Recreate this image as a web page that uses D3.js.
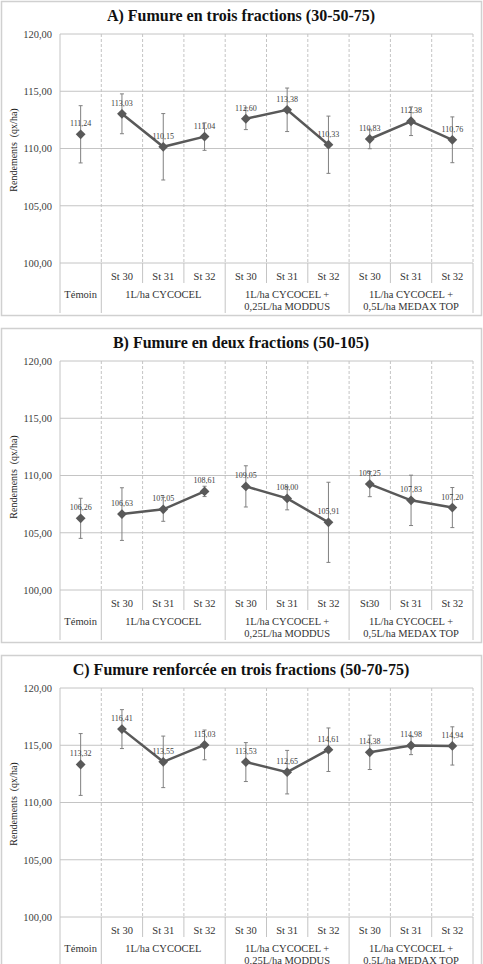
<!DOCTYPE html>
<html>
<head>
<meta charset="utf-8">
<script src="https://cdn.jsdelivr.net/npm/d3@7"></script>
<style>
  body { margin: 0; background: #fff; }
  svg, svg text { font-family: "Liberation Serif", "DejaVu Serif", serif; }
</style>
</head>
<body>
<div id="chart"></div>
<script>
// chart data
const titles = [
    "A) Fumure en trois fractions (30-50-75)",
    "B) Fumure en deux fractions (50-105)",
    "C) Fumure renforcée en trois fractions (50-70-75)"
];
const stLabelsA = ["", "St 30", "St 31", "St 32", "St 30", "St 31", "St 32", "St 30", "St 31", "St 32"];
const stLabelsB = ["", "St 30", "St 31", "St 32", "St 30", "St 31", "St 32", "St30", "St 31", "St 32"];
const stLabelsC = stLabelsA;
const groupLabels = [["Témoin"], ["1L/ha CYCOCEL"], ["1L/ha CYCOCEL +", "0,25L/ha MODDUS"], ["1L/ha CYCOCEL +", "0,5L/ha MEDAX TOP"]];
const groupSizes = [1, 3, 3, 3];

const meansA = [111.24, 113.03, 110.15, 111.04, 112.60, 113.38, 110.33, 110.83, 112.38, 110.76];
const errA   = [2.5, 1.74, 2.9, 1.2, 0.95, 1.9, 2.5, 0.85, 1.25, 2.0];
const meansB = [106.26, 106.63, 107.05, 108.61, 109.05, 108.00, 105.91, 109.25, 107.83, 107.20];
const errB   = [1.75, 2.3, 1.05, 0.45, 1.8, 1.0, 3.5, 1.1, 2.2, 1.75];
const meansC = [113.32, 116.41, 113.55, 115.03, 113.53, 112.65, 114.61, 114.38, 114.98, 114.94];
const errC   = [2.7, 1.7, 2.25, 1.3, 1.7, 1.9, 1.9, 1.5, 0.8, 1.67];

const yTicks = [100, 105, 110, 115, 120];

const W = 483, H = 964;
const panelH = 316;
const margin = {left: 60, right: 10, top: 34, bottom: 263};
const serif = "'Liberation Serif', 'DejaVu Serif', serif";

const fmt = v => d3.format(".2f")(v).replace(".", ",");

const svg = d3.select("#chart").append("svg")
    .attr("width", W)
    .attr("height", H)
    .attr("font-family", serif);

function drawPanel(offsetY, title, means, errs, stLabels) {
    const g = svg.append("g").attr("transform", "translate(0," + offsetY + ")");

    // panel frame
    g.append("rect")
        .attr("x", 1.5).attr("y", 1.5)
        .attr("width", W - 3).attr("height", panelH - 2)
        .attr("fill", "#fff")
        .attr("stroke", "#d0d0d0")
        .attr("stroke-width", 1.5);

    g.append("text")
        .attr("x", 241).attr("y", 21)
        .attr("text-anchor", "middle")
        .attr("font-size", 16).attr("font-weight", "bold")
        .attr("fill", "#111")
        .text(title);

    const idx = d3.range(means.length);
    const x = d3.scaleBand()
        .domain(idx)
        .range([margin.left, W - margin.right]);
    const y = d3.scaleLinear()
        .domain([100, 120])
        .range([margin.bottom, margin.top]);

    // horizontal grid
    g.selectAll(".hgrid").data(yTicks).join("line")
        .attr("x1", margin.left).attr("x2", W - margin.right)
        .attr("y1", d => y(d)).attr("y2", d => y(d))
        .attr("stroke", "#c4c4c4").attr("stroke-width", 1);

    // vertical dashed lines between categories
    const seps = d3.range(1, means.length + 1).map(i => x(i - 1) + x.bandwidth());
    g.selectAll(".vgrid").data(seps).join("line")
        .attr("x1", d => d).attr("x2", d => d)
        .attr("y1", margin.top).attr("y2", margin.bottom)
        .attr("stroke", "#c4c4c4").attr("stroke-dasharray", "3,2");

    // left axis line
    g.append("line")
        .attr("x1", margin.left).attr("x2", margin.left)
        .attr("y1", margin.top).attr("y2", 313)
        .attr("stroke", "#c4c4c4");

    // y axis labels
    const yAxis = d3.axisLeft(y).tickValues(yTicks).tickSize(0).tickPadding(8)
        .tickFormat(fmt);
    const ya = g.append("g")
        .attr("transform", "translate(" + margin.left + ",0)")
        .call(yAxis)
        .attr("font-family", serif);
    ya.select(".domain").remove();
    ya.selectAll("text")
        .attr("font-size", 10.5).attr("fill", "#404040");

    g.append("text")
        .attr("transform", "translate(17,150) rotate(-90)")
        .attr("text-anchor", "middle")
        .attr("font-size", 10).attr("fill", "#222")
        .attr("xml:space", "preserve")
        .text("Rendements  (qx/ha)");

    // category label band
    let start = 0;
    const groupStarts = [];
    groupSizes.forEach(n => { groupStarts.push(start); start += n; });

    idx.forEach(i => {
        const xr = x(i) + x.bandwidth();
        const isGroupEnd = groupStarts.includes(i + 1) || i === means.length - 1;
        g.append("line")
            .attr("x1", xr).attr("x2", xr)
            .attr("y1", margin.bottom).attr("y2", isGroupEnd ? 313 : 283)
            .attr("stroke", "#c4c4c4");
        if (stLabels[i]) {
            g.append("text")
                .attr("x", x(i) + x.bandwidth() / 2).attr("y", 280)
                .attr("text-anchor", "middle")
                .attr("font-size", 10.5).attr("fill", "#333")
                .text(stLabels[i]);
        }
    });

    groupLabels.forEach((lines, k) => {
        const x0 = x(groupStarts[k]);
        const x1 = x(groupStarts[k] + groupSizes[k] - 1) + x.bandwidth();
        lines.forEach((t, j) => {
            g.append("text")
                .attr("x", (x0 + x1) / 2).attr("y", 298 + j * 11.5)
                .attr("text-anchor", "middle")
                .attr("font-size", 10.5).attr("fill", "#333")
                .text(t);
        });
    });

    const cx = i => x(i) + x.bandwidth() / 2;

    // error bars
    const eb = g.append("g").attr("stroke", "#808080").attr("stroke-width", 1);
    idx.forEach(i => {
        const top = y(means[i] + errs[i]), bot = y(means[i] - errs[i]);
        eb.append("line").attr("x1", cx(i)).attr("x2", cx(i)).attr("y1", top).attr("y2", bot);
        eb.append("line").attr("x1", cx(i) - 2).attr("x2", cx(i) + 2).attr("y1", top).attr("y2", top);
        eb.append("line").attr("x1", cx(i) - 2).attr("x2", cx(i) + 2).attr("y1", bot).attr("y2", bot);
    });

    // lines within each treatment group
    const line = d3.line().x(i => cx(i)).y(i => y(means[i]));
    groupSizes.forEach((n, k) => {
        if (n < 2) return;
        const pts = d3.range(groupStarts[k], groupStarts[k] + n);
        g.append("path")
            .attr("d", line(pts))
            .attr("fill", "none")
            .attr("stroke", "#595959")
            .attr("stroke-width", 2.5);
    });

    // diamond markers
    g.selectAll(".pt").data(idx).join("path")
        .attr("transform", i => "translate(" + cx(i) + "," + y(means[i]) + ") rotate(45)")
        .attr("d", d3.symbol().type(d3.symbolSquare).size(48))
        .attr("fill", "#595959");

    // value labels
    g.selectAll(".val").data(idx).join("text")
        .attr("x", i => cx(i))
        .attr("y", i => y(means[i]) - 8)
        .attr("text-anchor", "middle")
        .attr("font-size", 8).attr("fill", "#404040")
        .text(i => fmt(means[i]));
}

drawPanel(0, titles[0], meansA, errA, stLabelsA);
drawPanel(327, titles[1], meansB, errB, stLabelsB);
drawPanel(654, titles[2], meansC, errC, stLabelsC);
</script>
</body>
</html>
